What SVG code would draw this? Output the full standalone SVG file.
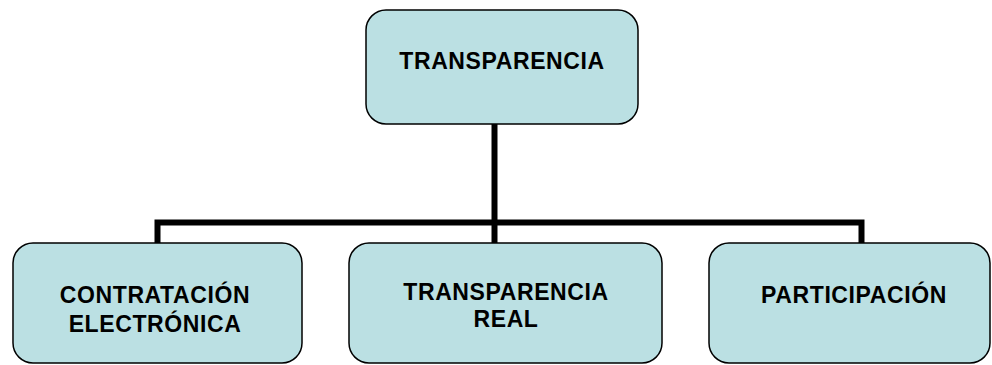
<svg xmlns="http://www.w3.org/2000/svg" width="992" height="365" viewBox="0 0 992 365">
<style>
.box{fill:#BBE0E3;stroke:#000;stroke-width:1.5}
.lbl{font-family:"Liberation Sans",Arial,sans-serif;font-weight:bold;font-size:23px;letter-spacing:0.6px;fill:#000;text-anchor:middle}
.conn{fill:none;stroke:#000;stroke-width:6;stroke-linejoin:miter}
</style>
<rect width="992" height="365" fill="#fff"/>
<g id="connectors">
<path class="conn" d="M494.5,124 V243"/>
<path class="conn" d="M157.5,243 V222.5 H861.5 V243"/>
</g>
<g id="n-transparencia">
<rect class="box" x="366" y="10" width="272" height="114" rx="20"/>
<text class="lbl" x="502" y="68.5">TRANSPARENCIA</text>
</g>
<g id="n-contratacion">
<rect class="box" x="13" y="243" width="289" height="120" rx="20"/>
<text class="lbl" x="155" y="303">CONTRATACIÓN</text>
<text class="lbl" x="155" y="332">ELECTRÓNICA</text>
</g>
<g id="n-real">
<rect class="box" x="349" y="243" width="313" height="120" rx="20"/>
<text class="lbl" x="506" y="300">TRANSPARENCIA</text>
<text class="lbl" x="506" y="327">REAL</text>
</g>
<g id="n-participacion">
<rect class="box" x="709" y="243" width="281" height="120" rx="20"/>
<text class="lbl" x="854" y="303">PARTICIPACIÓN</text>
</g>
</svg>
